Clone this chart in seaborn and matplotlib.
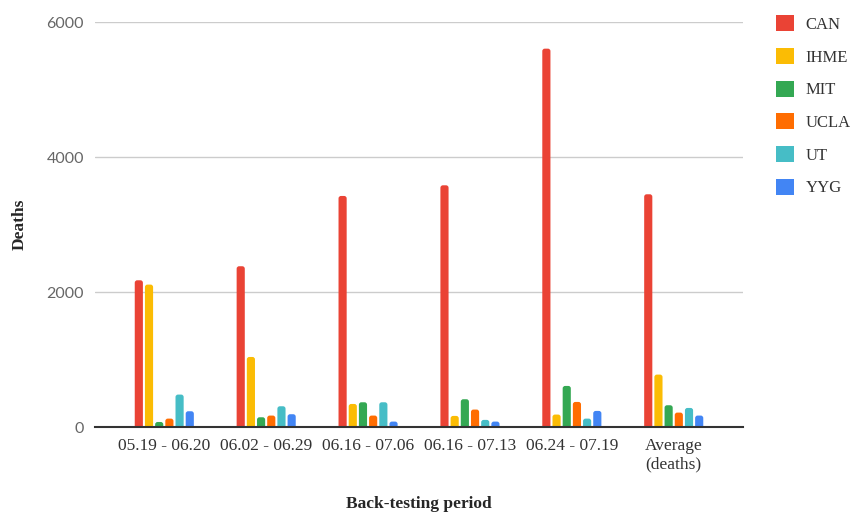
import numpy as np
import pandas as pd
import matplotlib
matplotlib.use("Agg")
import matplotlib.pyplot as plt
import seaborn as sns
from matplotlib.patches import Patch, FancyBboxPatch

periods = ['05.19 - 06.20', '06.02 - 06.29', '06.16 - 07.06', '06.16 - 07.13',
           '06.24 - 07.19', 'Average\n(deaths)']
models = ['CAN', 'IHME', 'MIT', 'UCLA', 'UT', 'YYG']

can = [2177, 2385, 3426, 3584, 5608, 3451]
ihme = [2113, 1041, 345, 168, 188, 780]
mit = [78, 148, 370, 415, 612, 326]
ucla = [128, 173, 173, 262, 375, 217]
ut = [484, 311, 370, 109, 128, 286]
yyg = [237, 193, 84, 84, 242, 173]

colors = ['#EA4335', '#FBBC04', '#34A853', '#FF6D01', '#46BDC6', '#4285F4']

df = pd.DataFrame({'CAN': can, 'IHME': ihme, 'MIT': mit,
                   'UCLA': ucla, 'UT': ut, 'YYG': yyg}, index=periods)
long = df.reset_index(names='period').melt(id_vars='period', var_name='model',
                                           value_name='deaths')

sns.set_style('white')
serif = ['Liberation Serif', 'DejaVu Serif']

fig = plt.figure(figsize=(8.56, 5.16), dpi=100)
ax = fig.add_axes([0.111, 0.172, 0.757, 0.785])

sns.barplot(data=long, x='period', y='deaths', hue='model', hue_order=models,
            palette=colors, width=0.6, gap=0.2, ax=ax, legend=False,
            saturation=1, zorder=3)

ax.set_ylim(0, 6000)
ax.set_xlim(-0.68, 5.68)

# round the bar tops (swap each rectangle for a rounded box, bottom hidden below 0)
fig.canvas.draw()
bb = ax.get_window_extent()
x_per_px = (ax.get_xlim()[1] - ax.get_xlim()[0]) / bb.width
y_per_px = (ax.get_ylim()[1] - ax.get_ylim()[0]) / bb.height
aspect = y_per_px / x_per_px
for p in list(ax.patches):
    x, w, h = p.get_x(), p.get_width(), p.get_height()
    r = min(w / 2, 2.5 * x_per_px)
    fb = FancyBboxPatch((x, -r * aspect), w, h + r * aspect,
                        boxstyle=f'round,pad=0,rounding_size={r}',
                        mutation_aspect=aspect, facecolor=p.get_facecolor(),
                        edgecolor='none', zorder=3)
    p.remove()
    ax.add_patch(fb)

ax.set_yticks([0, 2000, 4000, 6000])
ax.yaxis.grid(True, color='#cccccc', linewidth=1, zorder=0)
ax.set_axisbelow(True)
for s in ['top', 'right', 'left']:
    ax.spines[s].set_visible(False)
ax.spines['bottom'].set_color('#333333')
ax.spines['bottom'].set_linewidth(1.5)
ax.spines['bottom'].set_zorder(4)
ax.tick_params(axis='both', length=0, pad=8)

for lab in ax.get_yticklabels():
    lab.set_family(['Lato', 'DejaVu Sans'])
    lab.set_fontsize(11.5)
    lab.set_color('#666666')
for lab in ax.get_xticklabels():
    lab.set_family(serif)
    lab.set_fontsize(12.5)
    lab.set_color('#333333')

ax.set_xlabel('Back-testing period', family=serif, fontsize=12.5,
              fontweight='bold')
ax.set_ylabel('Deaths', family=serif, fontsize=12.5, fontweight='bold')
ax.xaxis.set_label_coords(0.50, -0.17)
ax.yaxis.set_label_coords(-0.104, 0.5)

handles = [Patch(facecolor=c, edgecolor='none', label=m)
           for m, c in zip(models, colors)]
fig.legend(handles=handles, loc='upper left', bbox_to_anchor=(0.906, 0.97),
           frameon=False, prop={'family': serif, 'size': 12},
           handlelength=1.1, handleheight=1.1, labelspacing=0.9,
           handletextpad=0.7, borderpad=0, borderaxespad=0,
           labelcolor='#333333')

fig.savefig('out.png', dpi=100)
